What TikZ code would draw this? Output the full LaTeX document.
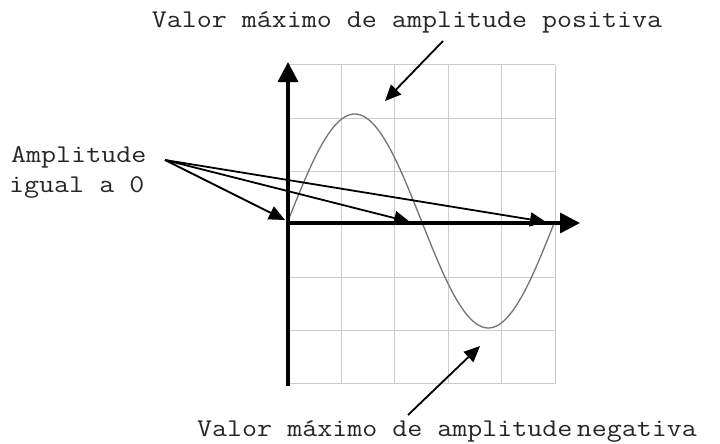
\documentclass[tikz,border=0pt]{standalone}
\usepackage{fontspec}
\usepackage{graphicx}
\usetikzlibrary{arrows.meta}
\newcommand{\monotxt}[1]{\scalebox{1.143}[1]{#1}}
\begin{document}
\begin{tikzpicture}[x=1pt,y=-1pt,
  lbl/.style={font=\ttfamily\fontsize{25.5}{30}\selectfont, text=black!85, inner sep=0pt},
  gridline/.style={draw=black!20, line width=1pt},
  axisline/.style={line width=3.5pt, -{Triangle[length=20pt,width=20pt]}},
  pointer/.style={line width=1.8pt, -{Triangle[length=16pt,width=14pt]}},
  wave/.style={draw=black!55, line width=1.3pt}]
\useasboundingbox[fill=white] (0,0) rectangle (720,444);
% grid
\foreach \k in {1,...,5}{\draw[gridline] ({288+\k*53.4},65) -- ({288+\k*53.4},384);}
\foreach \k in {0,...,6}{\draw[gridline] (288,{65+\k*53}) -- (555,{65+\k*53});}
% wave
\draw[wave] plot[domain=0:360,samples=120,smooth] ({288+\x/360*267},{221-107*sin(\x)});
% axes
\coordinate (o) at (288,223);
\coordinate (ybot) at (288,386);
\coordinate (ytop) at (288,62);
\coordinate (xend) at (580,223);
\draw[axisline] (ybot) -- (ytop);
\draw[axisline] ([xshift=-1.75pt]o) -- (xend);
% labels
\node[lbl, anchor=base] (top) at (407,28) {\monotxt{Valor máximo de amplitude positiva}};
\node[lbl, anchor=base west] (bot) at (197,436) {\monotxt{Valor máximo de amplitude\hspace{0.15em}negativa}};
\node[lbl, anchor=base west] (amp1) at (11,162) {\monotxt{Amplitude}};
\node[lbl, anchor=base west] (amp2) at (9,192) {\monotxt{igual a 0}};
% pointer coordinates
\coordinate (z) at (165,160);
\coordinate (z1) at (285,220);
\coordinate (z2) at (410,222);
\coordinate (z3) at (546,222);
\coordinate (ts) at (443,41);
\coordinate (te) at (385,101);
\coordinate (bs) at (408,415);
\coordinate (be) at (480,346);
\draw[pointer] (z) -- (z1);
\draw[pointer] (z) -- (z2);
\draw[pointer] (z) -- (z3);
\draw[pointer] (ts) -- (te);
\draw[pointer] (bs) -- (be);
\end{tikzpicture}
\end{document}
